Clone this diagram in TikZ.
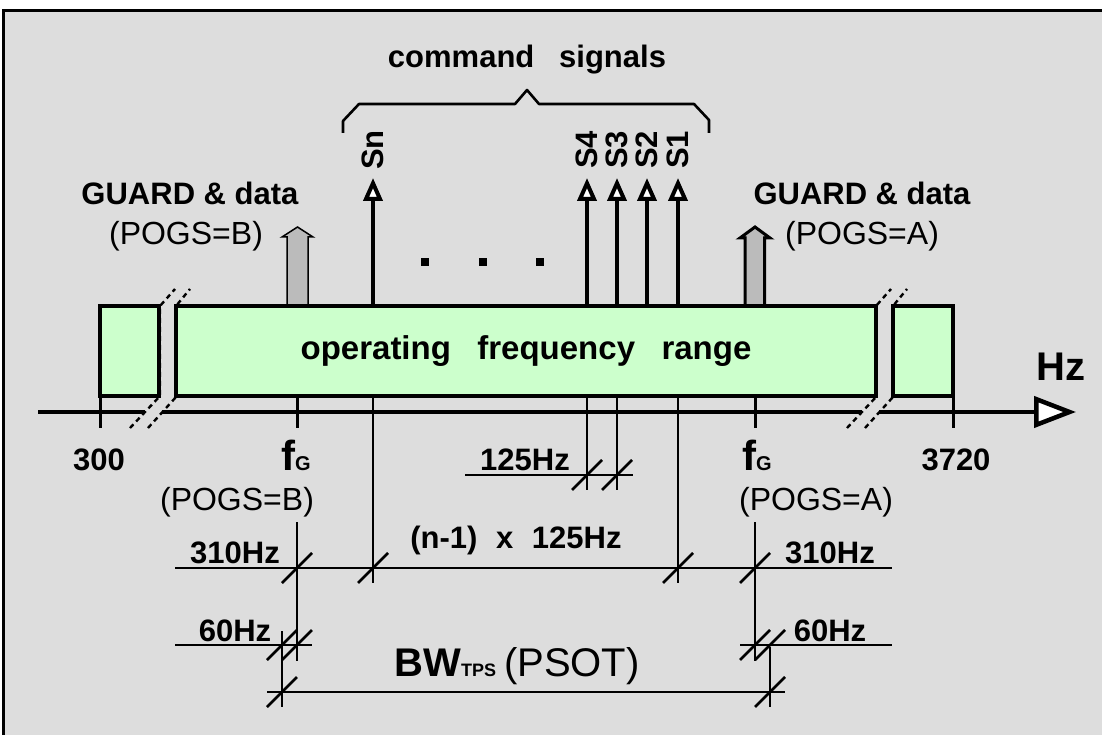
\documentclass[tikz,border=0pt]{standalone}
\usepackage{fontspec}
\setmainfont{Liberation Sans}
\usetikzlibrary{arrows.meta}
\definecolor{panel}{RGB}{221,221,221}
\definecolor{band}{RGB}{204,255,204}
\definecolor{guardgray}{RGB}{187,187,187}
\begin{document}
\begin{tikzpicture}[x=1pt,y=-1pt,
  lbl/.style={font=\fontsize{31}{36}\selectfont\bfseries, inner sep=0pt},
  reg/.style={font=\fontsize{32}{38}\selectfont, inner sep=0pt},
  bandbox/.style={draw, line width=3.5pt, fill=band, inner sep=0pt, outer sep=0pt},
  sig/.style={line width=4pt, -{Triangle[length=23pt,width=19pt,fill=white]}},
  axisln/.style={line width=4.5pt},
  tickln/.style={line width=3pt},
  dimline/.style={line width=2.6pt},
  brk/.style={line width=2.4pt, dash pattern=on 5pt off 4pt},
  guardarrow/.style={fill=guardgray, draw=black},
  slashmark/.pic={\draw[line width=2.6pt] (-15,15) -- (15,-15);}
]
\useasboundingbox (0,0) rectangle (1102,735);
\fill[white] (0,0) rectangle (1102,735);
\fill[panel] (3.5,11) rectangle (1102,735);
\draw[line width=3pt] (3.5,735) -- (3.5,11) -- (1102,11);

% brace and title
\node[lbl, anchor=base] (cmd) at (527,68) {command\hspace{0.8em}signals};
\draw[line width=2.6pt, line join=round]
  (343,133) -- (343,121) -- (359,104) -- (515,104) -- (527,90) -- (539,104)
  -- (694,104) -- (709,120) -- (709,133);

% signal arrows
\coordinate (sn0) at (373,306); \coordinate (snT) at (373,178);
\coordinate (s40) at (587,306); \coordinate (s4T) at (587,178);
\coordinate (s30) at (617,306); \coordinate (s3T) at (617,178);
\coordinate (s20) at (647,306); \coordinate (s2T) at (647,178);
\coordinate (s10) at (678,306); \coordinate (s1T) at (678,178);
\draw[sig] (sn0) -- (snT);
\draw[sig] (s40) -- (s4T);
\draw[sig] (s30) -- (s3T);
\draw[sig] (s20) -- (s2T);
\draw[sig] (s10) -- (s1T);
\node[lbl, rotate=90] (snL) at (373,150) {Sn};
\node[lbl, rotate=90] (s4L) at (587,150) {S4};
\node[lbl, rotate=90] (s3L) at (617,150) {S3};
\node[lbl, rotate=90] (s2L) at (647,150) {S2};
\node[lbl, rotate=90] (s1L) at (678,150) {S1};

% dots
\foreach \dx in {425,483,540} \fill (\dx-4,258) rectangle (\dx+4,266);

% guard arrows
\draw[guardarrow, line width=1.5pt] (287,306) -- (287,237) -- (282,237) -- (297.5,227)
  -- (313,237) -- (308,237) -- (308,306) -- cycle;
\draw[guardarrow, line width=3pt] (745,306) -- (745,238) -- (740,238) -- (755,227)
  -- (770,238) -- (764.5,238) -- (764.5,306) -- cycle;
\node[lbl, anchor=base] (gl) at (190,205) {GUARD \& data};
\node[reg, anchor=base] (gla) at (186,244) {(POGS=B)};
\node[lbl, anchor=base] (gr) at (862,205) {GUARD \& data};
\node[reg, anchor=base] (gra) at (862,245) {(POGS=A)};

% dimension lines (drawn under boxes)
\coordinate (dsn0) at (373,396); \coordinate (dsn1) at (373,583);
\coordinate (ds10) at (678,396); \coordinate (ds11) at (678,583);
\coordinate (ds40) at (587,396); \coordinate (ds41) at (587,490);
\coordinate (ds30) at (617,396); \coordinate (ds31) at (617,490);
\coordinate (fgl0) at (297,522); \coordinate (fgl1) at (297,661);
\coordinate (bwl0) at (282,631); \coordinate (bwl1) at (282,707);
\coordinate (fgr0) at (755,522); \coordinate (fgr1) at (755,661);
\coordinate (bwr0) at (770,647); \coordinate (bwr1) at (770,707);
\foreach \a/\b in {dsn0/dsn1,ds10/ds11,ds40/ds41,ds30/ds31,fgl0/fgl1,bwl0/bwl1,fgr0/fgr1,bwr0/bwr1}
  \draw[dimline] (\a) -- (\b);

% bands
\node[bandbox, minimum width=59pt, minimum height=90pt] (lb) at (129.5,351) {};
\node[bandbox, minimum width=700pt, minimum height=90pt, font=\fontsize{33}{38}\selectfont\bfseries] (range) at (526,351)
  {operating\hspace{0.8em}frequency\hspace{0.8em}range};
\node[bandbox, minimum width=60pt, minimum height=90pt] (rb) at (923,351) {};

% axis
\coordinate (ax0) at (38,412); \coordinate (axA) at (145,412);
\coordinate (axB) at (162,412); \coordinate (axC) at (862,412);
\coordinate (axD) at (879,412); \coordinate (axE) at (1076,412);
\draw[axisln] (ax0) -- (axA);
\draw[axisln] (axB) -- (axC);
\draw[axisln, -{Triangle[length=42pt,width=31pt,fill=white]}] (axD) -- (axE);
\node[lbl, anchor=base, font=\fontsize{40}{44}\selectfont\bfseries] (hz) at (1061,380) {Hz};

% break marks
\draw[brk] (130,428) -- (160,396) -- (160,306) -- (175,289);
\draw[brk] (148,428) -- (176,397) -- (176,306) -- (190,289);
\draw[brk] (847,428) -- (876,397) -- (876,306) -- (891,289);
\draw[brk] (865,428) -- (893,397) -- (893,306) -- (907,289);

% ticks
\draw[tickln] (100,396) -- (100,428);
\draw[tickln] (953,396) -- (953,428);
\draw[tickln] (297,398) -- (297,428);
\draw[tickln] (755,398) -- (755,428);
\node[lbl, anchor=base] (t300) at (99,470) {300};
\node[lbl, anchor=base] (t3720) at (956,470) {3720};
\node[anchor=base, inner sep=0pt] (fgl) at (296,470) {\fontsize{42}{46}\selectfont\bfseries f\fontsize{20}{24}\selectfont G};
\node[anchor=base, inner sep=0pt] (fgr) at (757,470) {\fontsize{42}{46}\selectfont\bfseries f\fontsize{20}{24}\selectfont G};
\node[reg, anchor=base] (pb) at (237,510) {(POGS=B)};
\node[reg, anchor=base] (pa) at (816,510) {(POGS=A)};

% horizontal dimension lines
\coordinate (h1a) at (465,475); \coordinate (h1b) at (633,475);
\coordinate (h2a) at (175,568); \coordinate (h2b) at (892,568);
\coordinate (h3a) at (175,645); \coordinate (h3b) at (312,645);
\coordinate (h4a) at (740,645); \coordinate (h4b) at (892,645);
\coordinate (h5a) at (267,692); \coordinate (h5b) at (785,692);
\foreach \a/\b in {h1a/h1b,h2a/h2b,h3a/h3b,h4a/h4b,h5a/h5b}
  \draw[dimline] (\a) -- (\b);
\foreach \px/\py in {587/475,617/475,297/568,373/568,678/568,755/568,282/645,297/645,755/645,770/645,282/692,770/692}
  \pic at (\px,\py) {slashmark};

\node[lbl, anchor=base] (d125) at (525,470) {125Hz};
\node[lbl, anchor=base] (dn) at (516,548) {(n-1)\hspace{0.6em}x\hspace{0.6em}125Hz};
\node[lbl, anchor=base] (d310l) at (235,563) {310Hz};
\node[lbl, anchor=base] (d310r) at (830,563) {310Hz};
\node[lbl, anchor=base] (d60l) at (235,641) {60Hz};
\node[lbl, anchor=base] (d60r) at (830,641) {60Hz};
\node[anchor=base, inner sep=0pt] (bw) at (517,676)
  {{\fontsize{40}{44}\selectfont\bfseries BW\fontsize{18}{22}\selectfont TPS}\hspace{8pt}\fontsize{40}{44}\selectfont(PSOT)};
\end{tikzpicture}
\end{document}
